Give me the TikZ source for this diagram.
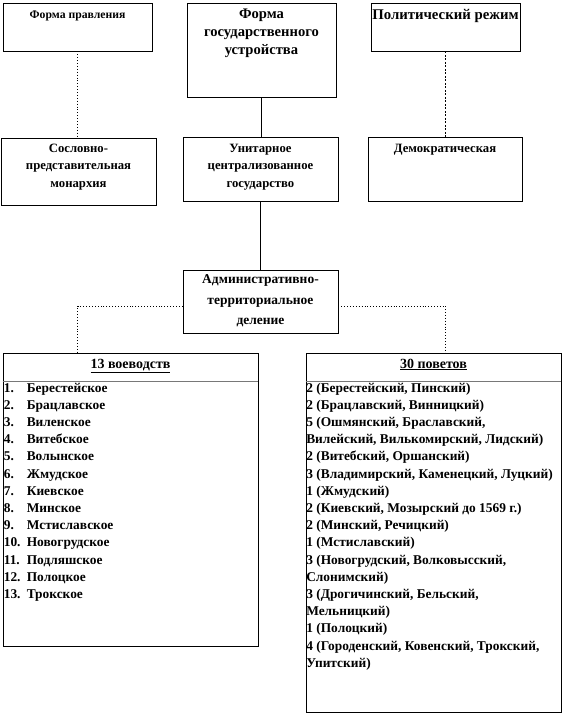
\documentclass[tikz,border=0pt]{standalone}
\usepackage{fontspec}
\setmainfont{Liberation Serif}
\usetikzlibrary{positioning,calc}
\definecolor{sepC}{RGB}{120,120,120}
\tikzset{
	box/.style={draw, line width=0.8pt, inner sep=0pt},
	boxtext/.style={align=center, inner sep=0pt, anchor=north,
		font=\fontsize{12.7}{17.5}\selectfont\bfseries},
	listtext/.style={align=left, inner sep=0pt, anchor=north west,
		font=\fontsize{13.4}{17.2}\selectfont\bfseries},
	solidlink/.style={line width=0.8pt},
	dotlink/.style={line width=0.9pt, dotted},
	dashlink/.style={line width=0.9pt, dash pattern=on 2pt off 1.5pt},
	sepline/.style={line width=1.4pt, sepC},
}
\newcommand{\numitem}[1]{\makebox[23pt][l]{#1}}

\begin{document}
\begin{tikzpicture}[x=1pt, y=-1pt]
		\useasboundingbox (0,0) rectangle (565,716);
		
		% =============== TOP ROW ===============
		\node[box, minimum width=149pt, minimum height=48pt] (formP) at (77.5,27) {};
		\node[box, minimum width=149pt, minimum height=94pt] (formU) at (261.5,50) {};
		\node[box, minimum width=149pt, minimum height=48pt] (regime) at (445.5,27) {};
		
		\node[boxtext, font=\fontsize{11.7}{15}\selectfont\bfseries] (formPtxt) at ([yshift=-8pt]formP.north) {Форма правления};
		\node[boxtext, font=\fontsize{14.6}{18}\selectfont\bfseries] (formUtxt) at ([yshift=-6pt]formU.north)
		{Форма\\государственного\\устройства};
		\node[boxtext, font=\fontsize{14.8}{18}\selectfont\bfseries] (regimetxt) at ([yshift=-7pt]regime.north) {Политический режим};
		
		% =============== MIDDLE ROW ===============
		\node[box, minimum width=155pt, minimum height=67pt] (mon) at (78.5,171.5) {};
		\node[box, minimum width=155pt, minimum height=64pt] (unit) at (260.5,169) {};
		\node[box, minimum width=154pt, minimum height=64pt] (demo) at (445,169) {};
		
		\node[boxtext] (montxt) at ([yshift=-6pt]mon.north)
		{Сословно-\\представительная\\монархия};
		\node[boxtext] (unittxt) at ([yshift=-7pt]unit.north)
		{Унитарное\\централизованное\\государство};
		\node[boxtext] (demotxt) at ([yshift=-7pt]demo.north) {Демократическая};
		
		\draw[dotlink] (formP.south) -- (formP.south |- mon.north);
		\draw[solidlink] (formU.south) -- (formU.south |- unit.north);
		\draw[dashlink] (regime.south) -- (regime.south |- demo.north);
		
		% =============== ADMINISTRATIVE DIVISION ===============
		\node[box, minimum width=155pt, minimum height=63pt] (adm) at (260.5,301.5) {};
		\node[boxtext, font=\fontsize{13.5}{20.5}\selectfont\bfseries] (admtxt) at ([yshift=-5pt]adm.north)
		{Административно-\\территориальное\\деление};
		
		\draw[solidlink] (unit.south) -- (unit.south |- adm.north);
		
		% =============== LISTS ===============
		\node[box, minimum width=255pt, minimum height=293pt] (voev) at (130.5,499.5) {};
		\node[box, minimum width=255pt, minimum height=359pt] (povet) at (433.5,532.5) {};
		
		\node[boxtext, font=\fontsize{14}{17}\selectfont\bfseries] (voevtxt) at ([yshift=-6pt]voev.north) {\underline{13 воеводств}};
		\node[boxtext, font=\fontsize{14}{17}\selectfont\bfseries] (povettxt) at ([yshift=-6pt]povet.north) {\underline{30 поветов}};
		
		\draw[sepline] ([yshift=-29pt]voev.north west) -- ([yshift=-29pt]voev.north east);
		\draw[sepline] ([yshift=-29pt]povet.north west) -- ([yshift=-29pt]povet.north east);
		
		\node[listtext] (voevlist) at ([xshift=1pt,yshift=-30pt]voev.north west)
		{\numitem{1.}Берестейское\\
			\numitem{2.}Брацлавское\\
			\numitem{3.}Виленское\\
			\numitem{4.}Витебское\\
			\numitem{5.}Волынское\\
			\numitem{6.}Жмудское\\
			\numitem{7.}Киевское\\
			\numitem{8.}Минское\\
			\numitem{9.}Мстиславское\\
			\numitem{10.}Новогрудское\\
			\numitem{11.}Подляшское\\
			\numitem{12.}Полоцкое\\
			\numitem{13.}Трокское};
		
		\node[listtext] (povetlist) at ([xshift=0.5pt,yshift=-30pt]povet.north west)
		{2 (Берестейский, Пинский)\\
			2 (Брацлавский, Винницкий)\\
			5 (Ошмянский, Браславский,\\
			Вилейский, Вилькомирский, Лидский)\\
			2 (Витебский, Оршанский)\\
			3 (Владимирский, Каменецкий, Луцкий)\\
			1 (Жмудский)\\
			2 (Киевский, Мозырский до 1569 г.)\\
			2 (Минский, Речицкий)\\
			1 (Мстиславский)\\
			3 (Новогрудский, Волковысский,\\
			Слонимский)\\
			3 (Дрогичинский, Бельский,\\
			Мельницкий)\\
			1 (Полоцкий)\\
			4 (Городенский, Ковенский, Трокский,\\
			Упитский)};
		
		\draw[dotlink] ([yshift=-4.5pt]adm.west) -| (formP.south |- voev.north);
		\draw[dotlink] ([yshift=-4.5pt]adm.east) -| (regime.south |- povet.north);
		
	\end{tikzpicture}
\end{document}
